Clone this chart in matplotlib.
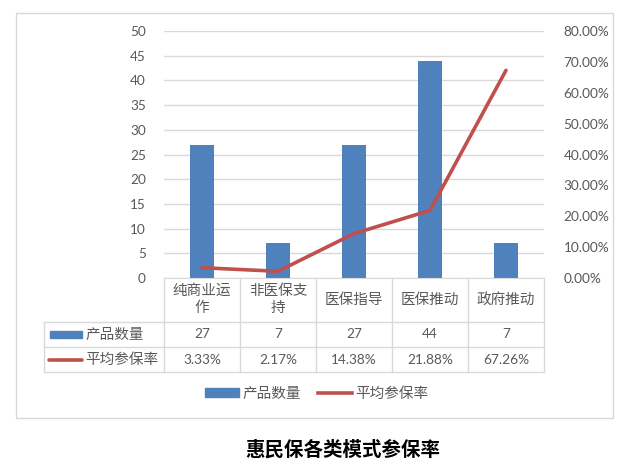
import numpy as np
import matplotlib.pyplot as plt
from matplotlib.patches import Rectangle, Patch
from matplotlib.lines import Line2D
from matplotlib.transforms import blended_transform_factory
from matplotlib.ticker import FuncFormatter

plt.rcParams['font.family'] = ['Lato', 'Noto Sans CJK SC', 'DejaVu Sans']

# data
categories = ["纯商业运\n作", "非医保支\n持", "医保指导", "医保推动", "政府推动"]
product_count = [27, 7, 27, 44, 7]
avg_rate = [0.0333, 0.0217, 0.1438, 0.2188, 0.6726]
count_labels = ["27", "7", "27", "44", "7"]
rate_labels = ["3.33%", "2.17%", "14.38%", "21.88%", "67.26%"]
series_names = ["产品数量", "平均参保率"]
title = "惠民保各类模式参保率"

bar_color = "#4F81BD"
line_color = "#C0504D"
text_color = "#595959"
grid_color = "#D9D9D9"

W, H = 629, 470
fig = plt.figure(figsize=(W / 100, H / 100), dpi=100)

def fx(px):
    return px / W

def fy(py):
    return 1 - py / H

# outer chart frame
fig.patches.append(Rectangle((fx(16), fy(418)), fx(613) - fx(16), fy(13) - fy(418),
                             transform=fig.transFigure, fill=False,
                             edgecolor=grid_color, linewidth=1))

left, right, top, bottom = 164, 544, 31, 278
ax = fig.add_axes([fx(left), fy(bottom), fx(right) - fx(left), fy(top) - fy(bottom)])
x = np.arange(len(categories))
ax.bar(x, product_count, width=0.31, color=bar_color, zorder=2)
ax.set_xlim(-0.5, len(categories) - 0.5)
ax.set_ylim(0, 50)
ax.set_yticks(np.arange(0, 51, 5))
ax.yaxis.grid(True, color=grid_color, linewidth=1, zorder=0)
ax.set_xticks([])
for s in ["top", "right", "left"]:
    ax.spines[s].set_visible(False)
ax.spines["bottom"].set_color(grid_color)
ax.tick_params(axis="y", length=0, pad=13, labelsize=9.8, labelcolor=text_color)

ax2 = ax.twinx()
ax2.plot(x, avg_rate, color=line_color, linewidth=2.6, solid_capstyle="round", zorder=3)
ax2.set_ylim(0, 0.8)
ax2.set_yticks(np.arange(0, 0.81, 0.1))
ax2.yaxis.set_major_formatter(FuncFormatter(lambda v, p: f"{v * 100:.2f}%"))
ax2.tick_params(axis="y", length=0, pad=14, labelsize=9.8, labelcolor=text_color)
for s in ax2.spines.values():
    s.set_visible(False)

# data table under the plot
tr = blended_transform_factory(ax.transData, fig.transFigure)
col_w = (right - left) / len(categories)
x_tab_left = -0.5 - (left - 44) / col_w
row_lines = [278, 322, 347, 372]

def hline(x0, x1, py):
    fig.add_artist(Line2D([x0, x1], [fy(py), fy(py)], transform=tr, color=grid_color, linewidth=1))

def vline(xx, py0, py1):
    fig.add_artist(Line2D([xx, xx], [fy(py0), fy(py1)], transform=tr, color=grid_color, linewidth=1))

for py in row_lines[1:]:
    hline(x_tab_left, len(categories) - 0.5, py)
for i in range(len(categories) + 1):
    vline(i - 0.5, 278, 372)
vline(x_tab_left, 322, 372)

cjk = ['Noto Sans CJK SC', 'DejaVu Sans']
for i, c in enumerate(categories):
    fig.text(x[i], fy(299.5), c, transform=tr, ha="center", va="center",
             fontsize=10.5, color=text_color, linespacing=1.3, family=cjk)
    fig.text(x[i], fy(334.5), count_labels[i], transform=tr, ha="center", va="center",
             fontsize=9.8, color=text_color)
    fig.text(x[i], fy(359.5), rate_labels[i], transform=tr, ha="center", va="center",
             fontsize=9.8, color=text_color)

# legend keys inside the table
fig.patches.append(Rectangle((fx(50), fy(338)), fx(82) - fx(50), fy(331) - fy(338),
                             transform=fig.transFigure, color=bar_color))
fig.add_artist(Line2D([fx(49), fx(82)], [fy(359.5), fy(359.5)], transform=fig.transFigure,
                      color=line_color, linewidth=2.6, solid_capstyle="round"))
fig.text(fx(85), fy(334.5), series_names[0], ha="left", va="center", fontsize=10.5,
         color=text_color, family=cjk)
fig.text(fx(85), fy(359.5), series_names[1], ha="left", va="center", fontsize=10.5,
         color=text_color, family=cjk)

# bottom legend
handles = [Patch(color=bar_color), Line2D([], [], color=line_color, linewidth=2.6)]
fig.legend(handles, series_names, loc="center", bbox_to_anchor=(fx(317), fy(394)),
           ncol=2, frameon=False, prop={'family': cjk, 'size': 10.5}, labelcolor=text_color,
           handlelength=2.3, handleheight=0.55, handletextpad=0.25, columnspacing=1.2)

fig.text(fx(343), fy(450), title, ha="center", va="center", fontsize=14,
         fontweight="bold", color="black", family=cjk)

plt.savefig("out.png", dpi=100)
